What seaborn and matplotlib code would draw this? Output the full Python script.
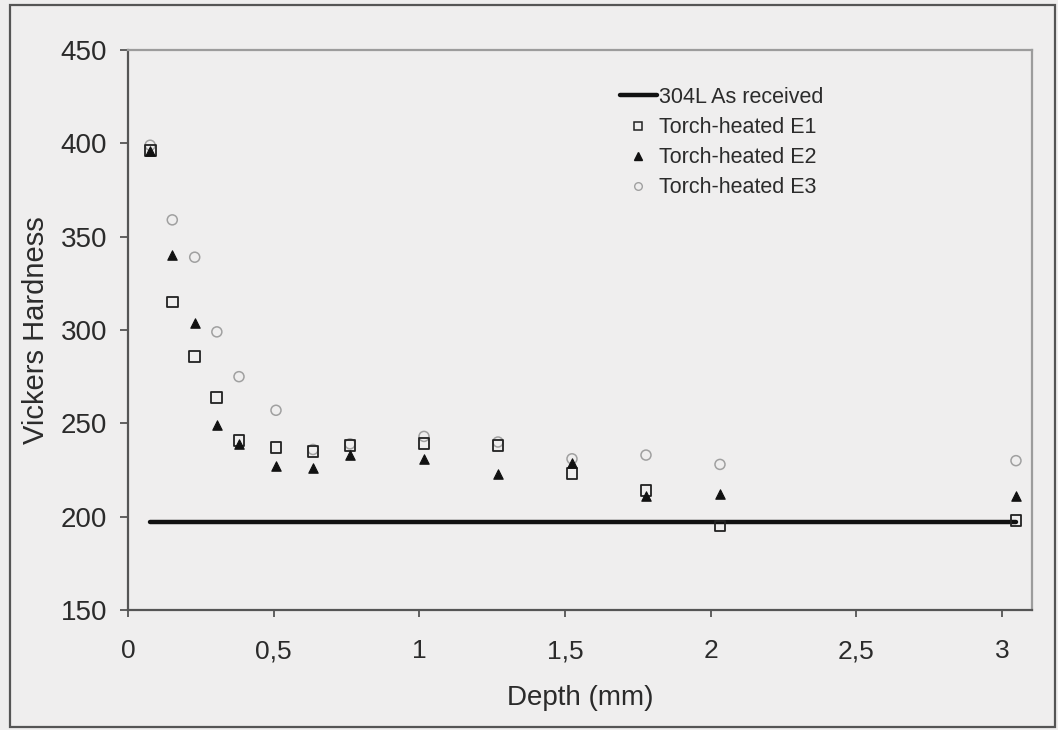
import matplotlib
matplotlib.use("Agg")
import matplotlib.pyplot as plt
from matplotlib.lines import Line2D
from matplotlib.patches import Rectangle
from matplotlib.ticker import FuncFormatter, MultipleLocator
import numpy as np
import pandas as pd
import seaborn as sns

# Depth of each indentation (mm)
depth_mm = [0.076, 0.152, 0.229, 0.305, 0.381, 0.508, 0.635, 0.762,
            1.016, 1.270, 1.524, 1.778, 2.032, 3.048]

# Vickers hardness at each depth for the three torch-heated samples
hv_e1 = [396, 315, 286, 264, 241, 237, 235, 238, 239, 238, 223, 214, 195, 198]
hv_e2 = [396, 340, 304, 249, 239, 227, 226, 233, 231, 223, 229, 211, 212, 211]
hv_e3 = [399, 359, 339, 299, 275, 257, 236, 239, 243, 240, 231, 233, 228, 230]

# Hardness of the as-received 304L plate
hv_as_received = 197

series_names = ["Torch-heated E1", "Torch-heated E2", "Torch-heated E3"]
baseline_name = "304L As received"

frames = []
for name, vals in zip(series_names, [hv_e1, hv_e2, hv_e3]):
    frames.append(pd.DataFrame({"Depth": depth_mm, "HV": vals, "Sample": name}))
df = pd.concat(frames, ignore_index=True)

base_df = pd.DataFrame({"Depth": [depth_mm[0], depth_mm[-1]],
                        "HV": [hv_as_received, hv_as_received]})

sns.set_theme(style="white")
plt.rcParams["font.family"] = ["Liberation Sans", "DejaVu Sans"]

bg = "#efeeee"
txt = "#2b2b2b"

fig = plt.figure(figsize=(10.58, 7.30), dpi=100, facecolor=bg)
ax = fig.add_axes([128 / 1058, 1 - 610 / 730, (1032 - 128) / 1058, (610 - 50) / 730])
ax.set_facecolor(bg)

# outer frame round the whole figure
fig.patches.append(Rectangle((10 / 1058, 3 / 730), 1045 / 1058, 722 / 730,
                             transform=fig.transFigure, fill=False,
                             edgecolor="#555555", linewidth=1.6))

# as-received reference line
sns.lineplot(data=base_df, x="Depth", y="HV", ax=ax, color="#111111",
             linewidth=3.2, legend=False, zorder=2)

markers = {"Torch-heated E1": "s", "Torch-heated E2": "^", "Torch-heated E3": "o"}
styles = {
    "Torch-heated E1": dict(facecolor="none", edgecolor="#222222", s=62, linewidth=1.3),
    "Torch-heated E2": dict(facecolor="#111111", edgecolor="#111111", s=46, linewidth=0.8),
    "Torch-heated E3": dict(facecolor="none", edgecolor="#a0a0a0", s=52, linewidth=1.1),
}
for name in ["Torch-heated E3", "Torch-heated E1", "Torch-heated E2"]:
    sub = df[df["Sample"] == name]
    st = styles[name]
    sns.scatterplot(data=sub, x="Depth", y="HV", ax=ax, marker=markers[name],
                    facecolor=st["facecolor"], edgecolor=st["edgecolor"],
                    s=st["s"], linewidth=st["linewidth"], legend=False, zorder=3)

ax.set_xlim(0, 3.103)
ax.set_ylim(150, 450)
ax.xaxis.set_major_locator(MultipleLocator(0.5))
ax.yaxis.set_major_locator(MultipleLocator(50))


def comma_fmt(v, _pos):
    s = f"{v:g}"
    return s.replace(".", ",")


ax.xaxis.set_major_formatter(FuncFormatter(comma_fmt))

for side in ["top", "right"]:
    ax.spines[side].set_visible(True)
    ax.spines[side].set_color("#9c9c9c")
    ax.spines[side].set_linewidth(1.6)
for side in ["left", "bottom"]:
    ax.spines[side].set_color("#555555")
    ax.spines[side].set_linewidth(1.6)

ax.tick_params(axis="y", direction="out", length=6, width=1.3, color="#555555",
               labelsize=20, labelcolor=txt, pad=9, left=True)
ax.tick_params(axis="x", direction="out", length=5, width=1.3, color="#555555",
               labelsize=19, labelcolor=txt, pad=16, bottom=True)

ax.set_xlabel("Depth (mm)", fontsize=20, color=txt, labelpad=16)
ax.set_ylabel("Vickers Hardness", fontsize=21, color=txt, labelpad=8)

handles = [
    Line2D([], [], color="#111111", linewidth=3.2),
    Line2D([], [], linestyle="none", marker="s", markersize=5.5,
           markerfacecolor="none", markeredgecolor="#222222", markeredgewidth=1.1),
    Line2D([], [], linestyle="none", marker="^", markersize=5.5,
           markerfacecolor="#111111", markeredgecolor="#111111"),
    Line2D([], [], linestyle="none", marker="o", markersize=5.5,
           markerfacecolor="none", markeredgecolor="#a0a0a0", markeredgewidth=1.0),
]
labels = [baseline_name] + series_names
leg = ax.legend(handles, labels, loc="upper left",
                bbox_to_anchor=(620 / 1058, 1 - 87 / 730),
                bbox_transform=fig.transFigure, frameon=False, fontsize=15.5,
                handlelength=1.7, handletextpad=0.12, labelspacing=0.42,
                borderaxespad=0, borderpad=0)
for t in leg.get_texts():
    t.set_color(txt)

fig.savefig("out.png", dpi=100, facecolor=bg)
